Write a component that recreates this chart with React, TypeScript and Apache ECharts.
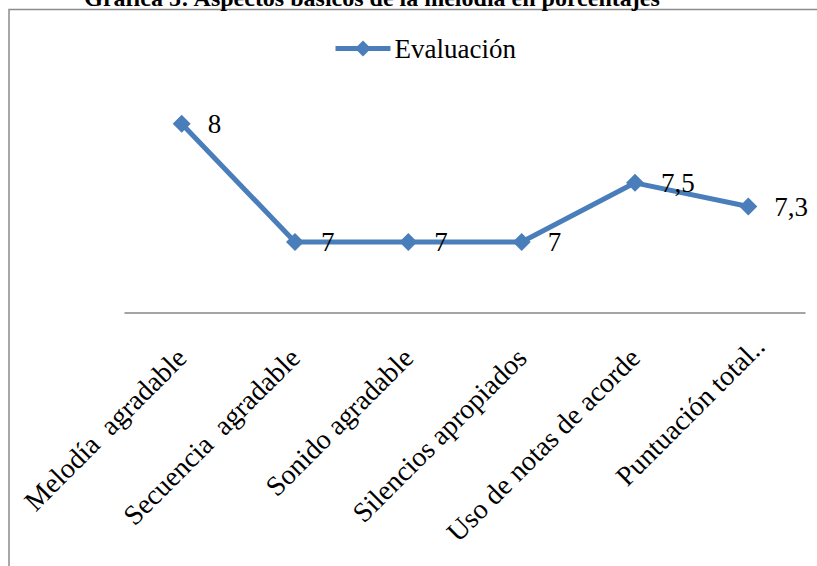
import React, { useEffect, useRef } from "react";
import * as echarts from "echarts";

const categories = [
  "Melodía  agradable",
  "Secuencia  agradable",
  "Sonido agradable",
  "Silencios apropiados",
  "Uso de notas de acorde",
  "Puntuación total..",
];
const seriesName = "Evaluación";
const values = [8, 7, 7, 7, 7.5, 7.3];
const titleText = "Gráfica 5: Aspectos básicos de la melodía en porcentajes";

export default function App() {
  const ref = useRef<HTMLDivElement>(null);
  useEffect(() => {
    if (!ref.current) return;
    const chart = echarts.init(ref.current, null, { renderer: "svg" });
    const serif = "'Liberation Serif', 'Times New Roman', serif";
    const catData = categories.map((c, i) =>
      i === categories.length - 1
        ? { value: c, textStyle: { padding: [0, -16, 0, 0] } }
        : c
    );
    chart.setOption({
      animation: false,
      backgroundColor: "#ffffff",
      graphic: [
        {
          type: "rect",
          shape: { x: 9, y: 9.5, width: 900, height: 700 },
          style: { fill: "none", stroke: "#8c8c8c", lineWidth: 1.5 },
          silent: true,
        },
        {
          type: "text",
          x: 372,
          y: 10,
          style: {
            text: titleText,
            fill: "#000",
            font: "bold 24px " + serif,
            textAlign: "center",
            textVerticalAlign: "bottom",
          },
        },
      ],
      legend: {
        data: [seriesName],
        left: 333,
        top: 35,
        padding: 0,
        itemWidth: 55,
        itemHeight: 20,
        itemGap: 4,
        lineStyle: { width: 5 },
        textStyle: { fontFamily: serif, fontSize: 27, color: "#000", padding: [0, 0, 0, -1] },
      },
      grid: { left: 125, right: 12, top: 100, bottom: 253, containLabel: false },
      xAxis: {
        type: "category",
        data: catData,
        boundaryGap: true,
        axisLine: { lineStyle: { color: "#868686", width: 1.5 } },
        axisTick: { show: false },
        axisLabel: {
          interval: 0,
          rotate: 45,
          margin: 40,
          fontFamily: serif,
          fontSize: 28,
          color: "#000",
        },
      },
      yAxis: { type: "value", min: 6.4, max: 8.2, show: false },
      series: [
        {
          name: seriesName,
          type: "line",
          data: values,
          symbol: "diamond",
          symbolSize: 18,
          itemStyle: { color: "#4a7ebb" },
          lineStyle: { color: "#4a7ebb", width: 5 },
          label: {
            show: true,
            position: "right",
            distance: 17,
            fontFamily: serif,
            fontSize: 27,
            color: "#000",
            formatter: (p: any) => String(p.value).replace(".", ","),
          },
        },
      ],
    });
    return () => chart.dispose();
  }, []);
  return (
    <div
      ref={ref}
      style={{ position: "absolute", left: 0, top: 0, width: 817, height: 566 }}
    />
  );
}
